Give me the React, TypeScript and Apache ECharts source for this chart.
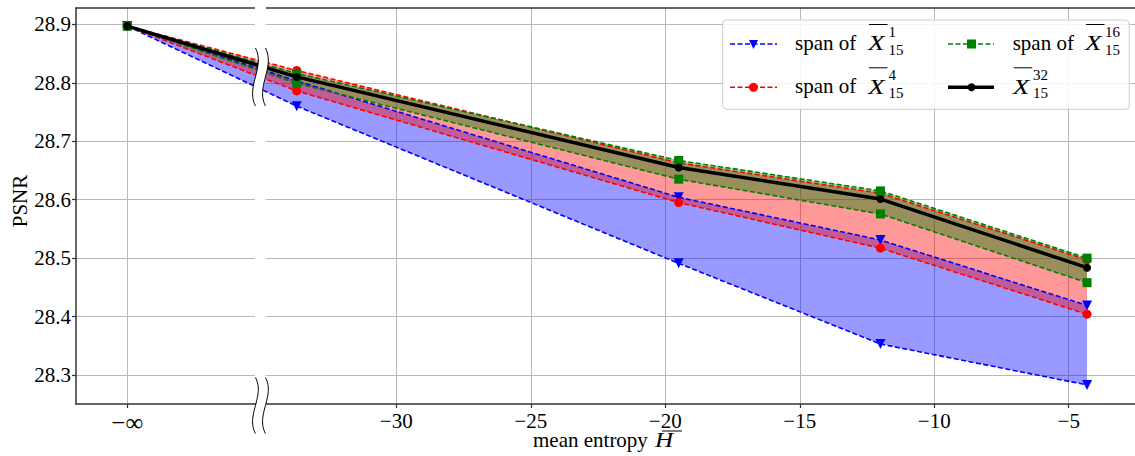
import React, { useEffect, useRef } from "react";
import * as echarts from "echarts";

// x positions of the five measurements (−40 is where "−∞" is drawn)
const xValues = [-40, -33.7, -19.5, -12, -4.32];
const xTickValues = [-40, -30, -25, -20, -15, -10, -5];
const yTickValues = [28.3, 28.4, 28.5, 28.6, 28.7, 28.8, 28.9];

// span of X^1_15
const blueMin = [28.897, 28.76, 28.491, 28.353, 28.283];
const blueMax = [28.897, 28.803, 28.604, 28.531, 28.419];
// span of X^4_15
const redMin = [28.897, 28.786, 28.595, 28.517, 28.404];
const redMax = [28.897, 28.821, 28.663, 28.611, 28.497];
// span of X^16_15
const greenMin = [28.897, 28.799, 28.635, 28.5755, 28.458];
const greenMax = [28.897, 28.816, 28.667, 28.615, 28.5];
// X^32_15
const meanX32 = [28.897, 28.81, 28.655, 28.601, 28.4836];

const X_MIN = -41.907;
const X_MAX = -2.537;
const Y_MIN = 28.2504;
const Y_MAX = 28.9279;
const BREAK_X = -35.05;
const BREAK_Y = 28.81;

const FONT = "'Liberation Serif', serif";
const FS = 21;

const pairs = (ys: number[]) => xValues.map((x, i) => [x, ys[i]]);

function wave(x: number, cy: number, hh: number, a: number) {
  const pts: number[][] = [];
  const n = 24;
  for (let k = 0; k <= n; k++) {
    const t = k / n;
    const dx = 3 * a * t * (1 - t) * (1 - 2 * t);
    pts.push([x + dx, cy - hh + 2 * hh * t]);
  }
  return pts;
}

function breakMark(cx: number, cy: number, hh: number) {
  const a = 10;
  const left = wave(cx - 5, cy, hh, a);
  const right = wave(cx + 5, cy, hh, a);
  return [
    {
      type: "polygon",
      shape: { points: left.concat(right.slice().reverse()) },
      style: { fill: "#ffffff", stroke: null },
    },
    { type: "polyline", shape: { points: left }, style: { stroke: "#000", lineWidth: 1, fill: null } },
    { type: "polyline", shape: { points: right }, style: { stroke: "#000", lineWidth: 1, fill: null } },
  ];
}

function legendGraphics() {
  const els: any[] = [];
  els.push({
    type: "rect",
    shape: { x: 722.7, y: 20, width: 406.6, height: 89.3, r: 4 },
    style: { fill: "rgba(255,255,255,0.85)", stroke: "#cccccc", lineWidth: 1 },
    z: 100,
  });
  const rows = [44, 87.3];
  const dash = [5, 2.5];
  const line = (x1: number, x2: number, y: number, color: string, w: number, d: any) => ({
    type: "line",
    shape: { x1, y1: y, x2, y2: y },
    style: { stroke: color, lineWidth: w, lineDash: d },
    z: 101,
  });
  els.push(line(730, 777, rows[0], "#0000ff", 1.6, dash));
  els.push({
    type: "polygon",
    shape: { points: [[749, 40], [758, 40], [753.5, 49]] },
    style: { fill: "#0000ff" },
    z: 102,
  });
  els.push(line(730, 777, rows[1], "#ff0000", 1.6, dash));
  els.push({ type: "circle", shape: { cx: 753.5, cy: rows[1], r: 4.5 }, style: { fill: "#ff0000" }, z: 102 });
  els.push(line(948, 994, rows[0], "#008000", 1.6, dash));
  els.push({
    type: "rect",
    shape: { x: 967, y: rows[0] - 4.5, width: 9, height: 9 },
    style: { fill: "#008000" },
    z: 102,
  });
  els.push(line(948, 994, rows[1], "#000000", 3.5, null));
  els.push({ type: "circle", shape: { cx: 971.5, cy: rows[1], r: 4 }, style: { fill: "#000" }, z: 102 });

  const txt = (text: string, x: number, y: number, size: number, italic = false, scaleX = 1) => ({
    type: "text",
    x,
    y,
    scaleX,
    style: {
      text,
      fontFamily: FONT,
      fontSize: size,
      fontStyle: italic ? "italic" : "normal",
      fill: "#000",
      align: "left",
      verticalAlign: "middle",
    },
    z: 103,
  });
  const entry = (prefix: boolean, tx: number, xx: number, sx: number, row: number, sup: string) => {
    const dy = row === 0 ? 0 : 43.3;
    if (prefix) els.push(txt("span of", tx, 43 + dy, FS));
    els.push(txt("X", xx, 43 + dy, FS, true, 1.3));
    els.push({
      type: "line",
      shape: { x1: xx + 1, y1: 24.5 + dy, x2: xx + 19.5, y2: 24.5 + dy },
      style: { stroke: "#000", lineWidth: 1 },
      z: 103,
    });
    els.push(txt(sup, sx, 32 + dy, 15));
    els.push(txt("15", sx, 49.5 + dy, 15));
  };
  entry(true, 795, 868, 888.5, 0, "1");
  entry(true, 795, 868, 888.5, 1, "4");
  entry(true, 1012.7, 1085, 1105, 0, "16");
  entry(false, 1012.7, 1012.7, 1033, 1, "32");
  return els;
}

function axisNameGraphics() {
  return [
    {
      type: "text",
      x: 533,
      y: 440,
      style: { text: "mean entropy", fontFamily: FONT, fontSize: FS, fill: "#000", align: "left", verticalAlign: "middle" },
    },
    {
      type: "text",
      x: 655,
      y: 440,
      scaleX: 1.2,
      style: {
        text: "H",
        fontFamily: FONT,
        fontSize: FS,
        fontStyle: "italic",
        fill: "#000",
        align: "left",
        verticalAlign: "middle",
      },
    },
    {
      type: "line",
      shape: { x1: 662, y1: 431, x2: 682, y2: 431 },
      style: { stroke: "#000", lineWidth: 1 },
    },
    {
      type: "text",
      x: 20,
      y: 201,
      rotation: Math.PI / 2,
      style: { text: "PSNR", fontFamily: FONT, fontSize: FS, fill: "#000", align: "center", verticalAlign: "middle" },
    },
  ];
}

export default function App() {
  const ref = useRef<HTMLDivElement>(null);
  useEffect(() => {
    if (!ref.current) return;
    const chart = echarts.init(ref.current, null, { renderer: "svg" });
    const bands = [
      { lo: blueMin, hi: blueMax, color: "rgba(0,0,255,0.4)" },
      { lo: redMin, hi: redMax, color: "rgba(255,0,0,0.4)" },
      { lo: greenMin, hi: greenMax, color: "rgba(0,128,0,0.4)" },
    ];
    const bandSeries = bands.map((b) => ({
      type: "custom",
      coordinateSystem: "cartesian2d",
      data: [[xValues[0], b.hi[0]]],
      z: 2,
      silent: true,
      renderItem: (_p: any, api: any) => {
        const top = xValues.map((x, i) => api.coord([x, b.hi[i]]));
        const bot = xValues.map((x, i) => api.coord([x, b.lo[i]])).reverse();
        return { type: "polygon", shape: { points: top.concat(bot) }, style: { fill: b.color } };
      },
    }));
    const lineSeries = (ys: number[], color: string, symbol: string, size: number, rot = 0, z = 3) => ({
      type: "line",
      data: pairs(ys),
      z,
      silent: true,
      symbol,
      symbolSize: size,
      symbolRotate: rot,
      showSymbol: true,
      lineStyle: { color, width: 1.6, type: [5, 2.5] },
      itemStyle: { color },
    });
    const option: any = {
      animation: false,
      grid: { left: 76, top: 8, width: 1063, height: 396 },
      xAxis: [
        {
          type: "value",
          min: X_MIN,
          max: X_MAX,
          axisLine: { show: true, lineStyle: { color: "#333", width: 1.5 } },
          axisTick: { show: true, length: 4, customValues: xTickValues, lineStyle: { color: "#333", width: 1.2 } },
          axisLabel: {
            customValues: xTickValues,
            margin: 6,
            fontFamily: FONT,
            fontSize: FS,
            color: "#000",
            formatter: (v: number) => (v <= -40 ? "{inf|−∞}" : "−" + String(Math.abs(v))),
            rich: {
              inf: { fontFamily: FONT, fontSize: 25, color: "#000" },
            },
          },
          splitLine: { show: true, lineStyle: { color: "#b8b8b8", width: 1 } },
        },
        {
          type: "value",
          position: "top",
          min: X_MIN,
          max: X_MAX,
          axisLine: { show: true, onZero: false, lineStyle: { color: "#333", width: 1.5 } },
          axisTick: { show: false },
          axisLabel: { show: false },
          splitLine: { show: false },
        },
      ],
      yAxis: {
        type: "value",
        min: Y_MIN,
        max: Y_MAX,
        axisLine: { show: true, onZero: false, lineStyle: { color: "#333", width: 1.5 } },
        axisTick: { show: true, length: 4, customValues: yTickValues, lineStyle: { color: "#333", width: 1.2 } },
        axisLabel: {
          customValues: yTickValues,
          margin: 5,
          fontFamily: FONT,
          fontSize: FS,
          color: "#000",
          formatter: (v: number) => v.toFixed(1),
        },
        splitLine: { show: true, lineStyle: { color: "#b8b8b8", width: 1 } },
      },
      series: [
        {
          type: "custom",
          coordinateSystem: "cartesian2d",
          data: [[BREAK_X, BREAK_Y]],
          z: 1,
          silent: true,
          clip: false,
          renderItem: (params: any, api: any) => {
            const cs = params.coordSys;
            const [cx] = api.coord([BREAK_X, BREAK_Y]);
            return {
              type: "rect",
              shape: { x: cx - 5.5, y: cs.y - 2, width: 11, height: cs.height },
              style: { fill: "#ffffff" },
            };
          },
        },
        ...bandSeries,
        lineSeries(blueMin, "#0000ff", "triangle", 10, 180),
        lineSeries(blueMax, "#0000ff", "triangle", 10, 180),
        lineSeries(redMin, "#ff0000", "circle", 9),
        lineSeries(redMax, "#ff0000", "circle", 9),
        lineSeries(greenMin, "#008000", "rect", 9),
        lineSeries(greenMax, "#008000", "rect", 9),
        {
          type: "line",
          data: pairs(meanX32),
          z: 4,
          silent: true,
          symbol: "circle",
          symbolSize: 8,
          showSymbol: true,
          lineStyle: { color: "#000", width: 3.5 },
          itemStyle: { color: "#000" },
        },
        {
          type: "custom",
          coordinateSystem: "cartesian2d",
          data: [[BREAK_X, BREAK_Y]],
          z: 6,
          silent: true,
          clip: false,
          renderItem: (params: any, api: any) => {
            const cs = params.coordSys;
            const [cx, cy] = api.coord([BREAK_X, BREAK_Y]);
            const by = cs.y + cs.height + 1.5;
            return {
              type: "group",
              children: [...breakMark(cx, cy, 29), ...breakMark(cx, by, 28)],
            };
          },
        },
      ],
      graphic: [...legendGraphics(), ...axisNameGraphics()],
    };
    chart.setOption(option);
    return () => chart.dispose();
  }, []);
  return (
    <div
      ref={ref}
      style={{ position: "fixed", left: 0, top: 0, width: 1135, height: 456, background: "#fff" }}
    />
  );
}
